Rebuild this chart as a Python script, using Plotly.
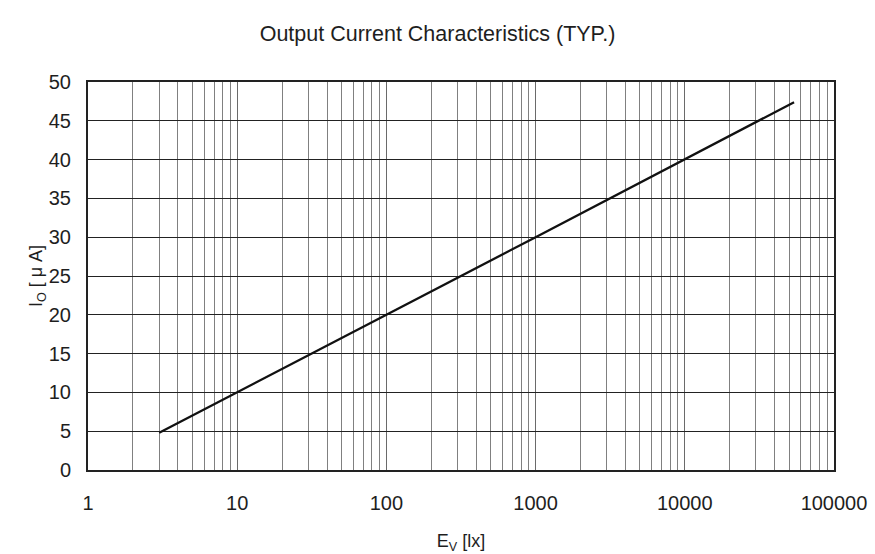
import plotly.graph_objects as go

# Data
ev_lux = [3, 10, 100, 1000, 10000, 54000]
io_uA = [4.8, 10.0, 20.0, 30.0, 40.0, 47.4]

x_tickvals = [1, 10, 100, 1000, 10000, 100000]
x_ticktext = ["1", "10", "100", "1000", "10000", "100000"]
y_tickvals = [0, 5, 10, 15, 20, 25, 30, 35, 40, 45, 50]

FONT = "Liberation Sans"
TXT = "#1e1e1e"

fig = go.Figure()
fig.add_trace(go.Scatter(
    x=ev_lux, y=io_uA, mode="lines",
    line=dict(color="#111111", width=2.3),
    showlegend=False, hoverinfo="skip",
))

fig.update_layout(
    width=875, height=554,
    paper_bgcolor="white", plot_bgcolor="white",
    margin=dict(l=88, r=41, t=82, b=84, autoexpand=False),
    font=dict(family=FONT, size=20, color=TXT),
    title=dict(text="Output Current Characteristics (TYP.)",
               x=0.5, xanchor="center", y=1 - 33 / 554, yanchor="middle",
               font=dict(family=FONT, size=21.5, color=TXT), automargin=False),
)

fig.update_xaxes(
    type="log", range=[0, 5], automargin=False,
    tickmode="array", tickvals=x_tickvals, ticktext=x_ticktext,
    tickfont=dict(size=20),
    showgrid=True, gridcolor="#6a6a6a", gridwidth=1.4,
    minor=dict(dtick="D1", showgrid=True, gridcolor="#808080", gridwidth=1.4, ticks=""),
    showline=True, linecolor="#222222", linewidth=2, mirror=True,
    ticks="", ticklabelstandoff=14,
    zeroline=False,
    title=dict(text="E<sub>V</sub> [lx]", standoff=25, font=dict(size=18)),
)

fig.update_yaxes(
    range=[0, 50], automargin=False,
    tickmode="array", tickvals=y_tickvals,
    tickfont=dict(size=20),
    showgrid=True, gridcolor="#222222", gridwidth=1.4,
    showline=True, linecolor="#222222", linewidth=2, mirror=True,
    ticks="", ticklabelstandoff=11,
    zeroline=False,
    title=dict(text="I<sub>O</sub> [ μ A]", standoff=0, font=dict(size=18)),
)

fig.write_html("out.html",
               config={"displayModeBar": False},
               post_script="document.body.style.margin='0';document.body.style.padding='0';")
